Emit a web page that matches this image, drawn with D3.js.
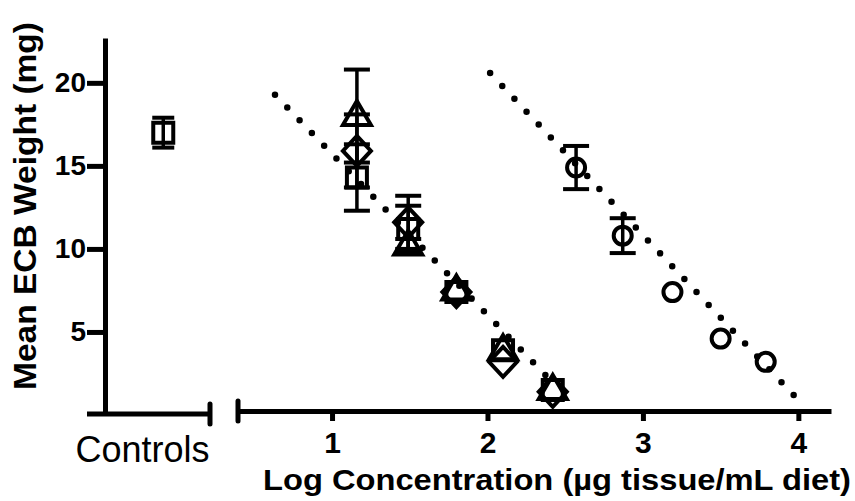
<!DOCTYPE html>
<html><head><meta charset="utf-8">
<script src="https://cdn.jsdelivr.net/npm/d3@7"></script>
<style>
body{margin:0;background:#fff}
svg{display:block}
text{font-family:"Liberation Sans",Arial,Helvetica,sans-serif;fill:#000}
</style>
</head><body>
<svg id="c" width="855" height="501"></svg>
<script>
// ---------------- data ----------------
const yTicks = [5, 10, 15, 20];
const xTicks = [1, 2, 3, 4];
const yTitle = "Mean ECB Weight (mg)";
const xTitle = "Log Concentration (\u00b5g tissue/mL diet)";
const controlLabel = "Controls";

const controlPos = [0.62];
const controlMean = [17.0];
const controlErr = [0.9];

const logConc = [1.16, 1.49, 1.80, 2.10, 2.42];
const squareMean = [14.3, 11.2, 7.4, 3.9, 1.5];
const squareErr = [2.0, 1.4, 0, 0, 0];
const diamondMean = [15.9, 11.6, 7.4, 3.2, 1.4];
const diamondErr = [2.2, 1.6, 0, 0, 0];
const triangleMean = [18.0, 10.2, 7.5, 3.9, 1.5];
const triangleErr = [2.8, 0.4, 0, 0, 0];

const circleConc = [2.57, 2.87, 3.19, 3.50, 3.79];
const circleMean = [14.9, 10.8, 7.4, 4.6, 3.2];
const circleErr = [1.3, 1.05, 0, 0, 0];

const fitLeftX = [0.633, 2.44];
const fitLeftY = [19.28, 1.75];
const fitRightX = [2.017, 4.0];
const fitRightY = [20.59, 0.9];

// ---------------- layout ----------------
const svg = d3.select("#c");
const x = d3.scaleLinear().domain([0.395, 4.21]).range([238, 831]);
const y = d3.scaleLinear().domain([0, 22.7]).range([415, 38]);
const xc = d3.scaleLinear().domain([0, 1]).range([87, 210]);
const FONT = "'Liberation Sans', Arial, Helvetica, sans-serif";
const AX_W = 5;
const xAxisY = 411;

// y axis
const gy = svg.append("g").attr("transform", "translate(105,0)")
  .call(d3.axisLeft(y).tickValues(yTicks).tickFormat(d3.format("d")).tickSize(18).tickSizeOuter(0));
gy.attr("font-family", FONT).attr("font-size", 28).attr("font-weight", "bold");
gy.select(".domain").attr("stroke", "#000").attr("stroke-width", AX_W);
gy.selectAll(".tick line").attr("stroke", "#000").attr("stroke-width", AX_W);
gy.selectAll(".tick text").attr("x", -19).attr("fill", "#000");

// controls axis segment
const gc = svg.append("g");
gc.append("line").attr("x1", xc(0)).attr("x2", xc(1)).attr("y1", 414).attr("y2", 414)
  .attr("stroke", "#000").attr("stroke-width", AX_W);
gc.append("line").attr("x1", xc(1)).attr("x2", xc(1)).attr("y1", 404).attr("y2", 424)
  .attr("stroke", "#000").attr("stroke-width", AX_W).attr("stroke-linecap", "round");
gc.append("text").attr("x", 142.5).attr("y", 462).attr("text-anchor", "middle")
  .attr("font-size", 36).attr("font-family", FONT).text(controlLabel);

// main x axis
const gx = svg.append("g").attr("transform", `translate(0,${xAxisY})`)
  .call(d3.axisBottom(x).tickValues(xTicks).tickFormat(d3.format("d")).tickSize(10).tickSizeOuter(0));
gx.attr("font-family", FONT).attr("font-size", 30).attr("font-weight", "bold");
gx.select(".domain").attr("stroke", "#000").attr("stroke-width", AX_W);
gx.selectAll(".tick line").attr("stroke", "#000").attr("stroke-width", AX_W);
gx.selectAll(".tick text").attr("y", 42).attr("dy", 0).attr("fill", "#000");
gx.append("line").attr("x1", x.range()[0]).attr("x2", x.range()[0]).attr("y1", -10).attr("y2", 10)
  .attr("stroke", "#000").attr("stroke-width", AX_W).attr("stroke-linecap", "round");

// titles
svg.append("text").attr("transform", "translate(36,206) rotate(-90)")
  .attr("text-anchor", "middle").attr("font-size", 32).attr("font-weight", "bold")
  .attr("font-family", FONT).attr("textLength", 368).attr("lengthAdjust", "spacingAndGlyphs")
  .text(yTitle);
svg.append("text").attr("x", 557).attr("y", 490)
  .attr("text-anchor", "middle").attr("font-size", 30).attr("font-weight", "bold")
  .attr("font-family", FONT).attr("textLength", 588).attr("lengthAdjust", "spacingAndGlyphs")
  .text(xTitle);

// dotted fit lines
const line = d3.line().x(d => x(d[0])).y(d => y(d[1]));
function fit(xs, ys) {
  svg.append("path").attr("d", line(d3.zip(xs, ys)))
    .attr("fill", "none").attr("stroke", "#000").attr("stroke-width", 6.5)
    .attr("stroke-linecap", "round").attr("stroke-dasharray", "0,17.7");
}
fit(fitLeftX, fitLeftY);
fit(fitRightX, fitRightY);

// markers
const shapes = {
  square: "M-10,-10H10V10H-10Z",
  diamond: "M0,-15L14,0L0,15L-14,0Z",
  triangle: "M0,-15L14,9L-14,9Z",
  circle: d3.arc()({innerRadius: 0, outerRadius: 9, startAngle: 0, endAngle: 2 * Math.PI})
};
function series(sx, xs, means, errs, shape, capW) {
  const g = svg.append("g");
  const data = d3.zip(xs, means, errs);
  data.filter(d => d[2] > 0).forEach(d => {
    const cx = sx(d[0]);
    g.append("line").attr("x1", cx).attr("x2", cx).attr("y1", y(d[1] + d[2])).attr("y2", y(d[1] - d[2]))
      .attr("stroke", "#000").attr("stroke-width", 3.5);
    [d[1] + d[2], d[1] - d[2]].forEach(v => {
      g.append("line").attr("x1", cx - capW / 2).attr("x2", cx + capW / 2).attr("y1", y(v)).attr("y2", y(v))
        .attr("stroke", "#000").attr("stroke-width", 4);
    });
  });
  g.selectAll("path.m").data(data).join("path").attr("class", "m")
    .attr("d", shapes[shape])
    .attr("transform", d => `translate(${sx(d[0])},${y(d[1])})`)
    .attr("fill", "none").attr("stroke", "#000").attr("stroke-width", 4);
}
series(xc, controlPos, controlMean, controlErr, "square", 22);
series(x, logConc, squareMean, squareErr, "square", 26);
series(x, logConc, diamondMean, diamondErr, "diamond", 26);
series(x, logConc, triangleMean, triangleErr, "triangle", 26);
series(x, circleConc, circleMean, circleErr, "circle", 26);
</script>
</body></html>
